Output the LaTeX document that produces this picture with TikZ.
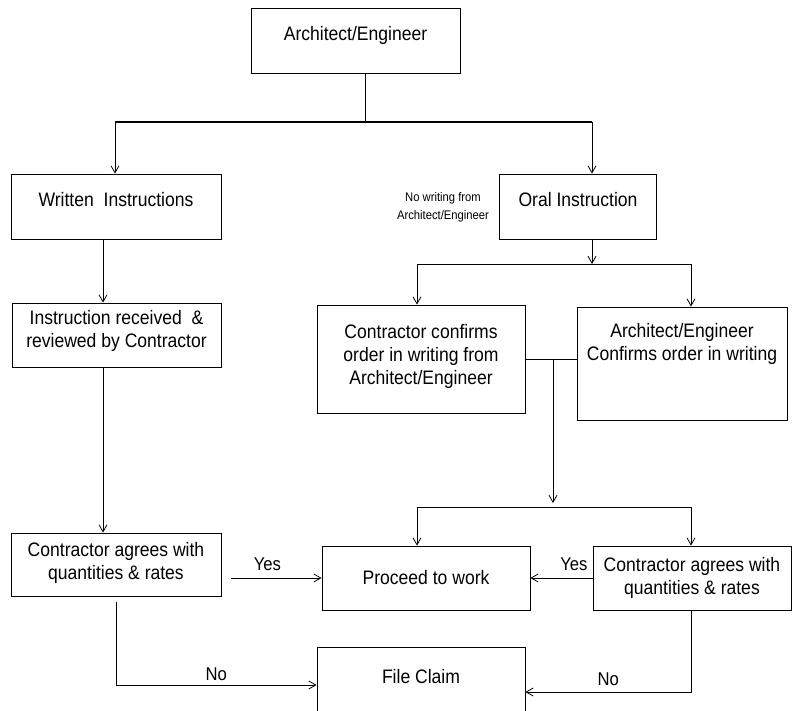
\documentclass[tikz,border=0pt]{standalone}
\usepackage{fontspec}
\setmainfont{Liberation Sans}[FakeStretch=0.9]
\usetikzlibrary{arrows.meta}

\begin{document}
\begin{tikzpicture}
  [
    x=1pt, y=-1pt,
    >={Straight Barb[length=7pt,width=8pt]},
    Box/.style={rectangle, draw=black, line width=0.8pt, inner sep=0pt, align=center, font=\fontsize{19.5}{23}\selectfont},
    Note/.style={align=center, inner sep=0pt, font=\fontsize{12.5}{18}\selectfont},
    Answer/.style={inner sep=0pt, font=\fontsize{18.5}{20}\selectfont},
    Link/.style={draw, line width=0.8pt}
  ]
  \clip (0,0) rectangle (792,711);
  % Nodes
  \node[Box, minimum width=209pt, minimum height=65pt, text depth=15pt] (ae) at (355.5, 40.5) {Architect/Engineer};
  \node[Box, minimum width=210pt, minimum height=65pt, text depth=15pt] (written) at (116, 206.5) {Written~~Instructions};
  \node[Box, minimum width=157pt, minimum height=65pt, text depth=15pt] (oral) at (578, 206.5) {Oral Instruction};
  \node[Note] (nowriting) at (443, 207) {No writing from\\Architect/Engineer};
  \node[Box, minimum width=209pt, minimum height=64pt, text depth=12pt] (instr) at (116.5, 335) {Instruction received~~\&\\reviewed by Contractor};
  \node[Box, minimum width=208pt, minimum height=108pt, text depth=9pt] (confirm) at (421, 359) {Contractor confirms\\order in writing from\\Architect/Engineer};
  \node[Box, minimum width=210pt, minimum height=113pt, text depth=44pt] (aeconf) at (682, 363.5) {Architect/Engineer\\Confirms order in writing};
  \node[Box, minimum width=210pt, minimum height=63pt, text depth=8pt] (lagree) at (116, 564.5) {Contractor agrees with\\quantities \& rates};
  \node[Box, minimum width=208pt, minimum height=64pt] (proceed) at (426, 578) {Proceed to work};
  \node[Box, minimum width=198pt, minimum height=64pt] (ragree) at (692, 578) {Contractor agrees with\\quantities \& rates};
  \node[Box, minimum width=208pt, minimum height=68pt, text depth=10pt] (claim) at (421, 681) {File Claim};
  % Junctions
  \coordinate (top) at (365, 122);
  \coordinate (topL) at (115, 122);
  \coordinate (topR) at (592, 122);
  \coordinate (mid) at (592, 264);
  \coordinate (midL) at (417, 264);
  \coordinate (midR) at (691, 264);
  \coordinate (join) at (553, 359);
  \coordinate (low) at (553, 507);
  \coordinate (lowL) at (417, 507);
  \coordinate (lowR) at (691, 507);
  \coordinate (colL) at (103, 0);
  % Lines
  \path [Link] (ae.south -| top) -- (top);
  \path [Link, line width=1.5pt] (topL) -- (topR);
  \path [->, Link] (topL) -- (topL |- written.north);
  \path [->, Link] (topR) -- (topR |- oral.north);
  \path [->, Link] (oral.south -| mid) -- (mid);
  \path [Link] (midL) -- (midR);
  \path [->, Link] (midL) -- (midL |- confirm.north);
  \path [->, Link] (midR) -- (midR |- aeconf.north);
  \path [Link] (confirm.east) -- (aeconf.west |- confirm.east);
  \path [->, Link] (join) -- ([yshift=4pt]low);
  \path [Link] (lowL) -- (lowR);
  \path [->, Link] (lowL) -- (lowL |- proceed.north);
  \path [->, Link] (lowR) -- (lowR |- ragree.north);
  \path [->, Link] (written.south -| colL) -- (instr.north -| colL);
  \path [->, Link] (instr.south -| colL) -- (lagree.north -| colL);
  \path [->, Link] ([xshift=10pt]lagree.east |- proceed.west) -- (proceed.west)
    node[Answer, pos=0.4, above=7pt] {Yes};
  \path [->, Link] (ragree.west |- proceed.east) -- (proceed.east)
    node[Answer, pos=0.3, above=7pt] {Yes};
  \path [->, Link] ([yshift=-6pt]lagree.south) |- ([yshift=-4pt]claim.west)
    node[Answer, pos=0.75, above=4pt] {No};
  \path [->, Link] (ragree.south -| lowR) |- ([yshift=-11pt]claim.east)
    node[Answer, pos=0.75, above=6pt] {No};
\end{tikzpicture}
\end{document}
